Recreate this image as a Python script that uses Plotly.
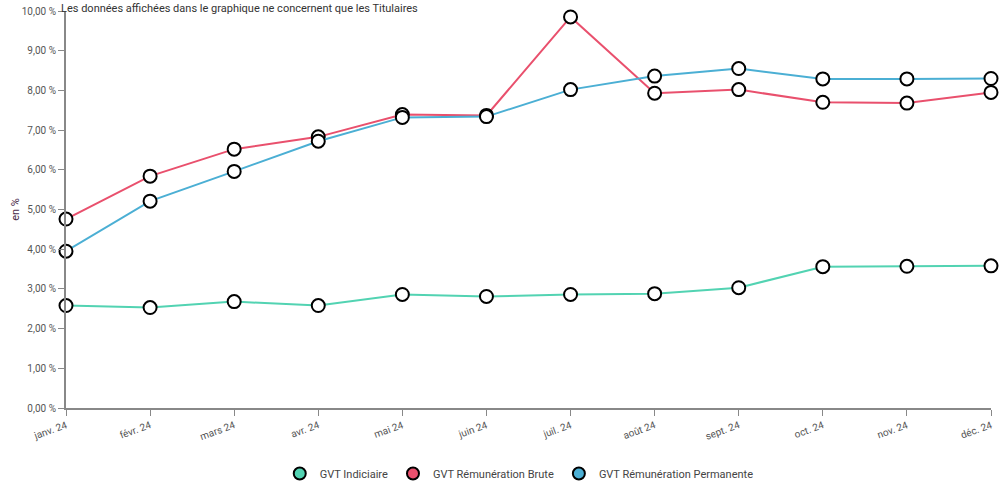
import plotly.graph_objects as go

months = ["janv. 24", "févr. 24", "mars 24", "avr. 24", "mai 24", "juin 24",
          "juil. 24", "août 24", "sept. 24", "oct. 24", "nov. 24", "déc. 24"]
gvt_indiciaire = [2.58, 2.53, 2.68, 2.58, 2.86, 2.81, 2.86, 2.88, 3.03, 3.56, 3.57, 3.58]
gvt_brute = [4.76, 5.84, 6.52, 6.83, 7.39, 7.37, 9.85, 7.93, 8.02, 7.70, 7.68, 7.95]
gvt_permanente = [3.95, 5.21, 5.96, 6.72, 7.32, 7.34, 8.02, 8.36, 8.55, 8.29, 8.29, 8.30]
y_ticks = [0, 1, 2, 3, 4, 5, 6, 7, 8, 9, 10]
y_tick_labels = ["0,00 %", "1,00 %", "2,00 %", "3,00 %", "4,00 %", "5,00 %",
                 "6,00 %", "7,00 %", "8,00 %", "9,00 %", "10,00 %"]

series = [
    ("GVT Indiciaire", gvt_indiciaire, "#52d3b2"),
    ("GVT Rémunération Brute", gvt_brute, "#e9506d"),
    ("GVT Rémunération Permanente", gvt_permanente, "#4bafd4"),
]

fig = go.Figure()
xidx = list(range(len(months)))
for name, vals, col in series:
    fig.add_trace(go.Scatter(
        x=xidx, y=vals, mode="lines+markers", name=name, showlegend=False,
        line=dict(color=col, width=2),
        marker=dict(size=13, color="white", line=dict(color="black", width=2)),
        cliponaxis=False,
    ))
for name, vals, col in series:
    fig.add_trace(go.Scatter(
        x=[None], y=[None], mode="markers", name=name, showlegend=True,
        marker=dict(size=11, color=col, line=dict(color="black", width=2)),
    ))

fig.update_layout(
    width=999, height=496,
    margin=dict(l=66, r=8, t=11, b=86),
    paper_bgcolor="white", plot_bgcolor="white",
    font=dict(family="Roboto, sans-serif", size=10, color="#555"),
    showlegend=True,
    legend=dict(orientation="h", x=0.49, xanchor="center", y=-0.165, yanchor="middle",
                font=dict(size=11, color="#444"), itemsizing="constant",
                itemwidth=30, tracegroupgap=0),
    xaxis=dict(
        range=[0, 11], tickvals=xidx, ticktext=months, tickangle=-20,
        showgrid=False, zeroline=False, showline=True, linecolor="#888", linewidth=2,
        ticks="outside", ticklen=6, tickcolor="#888", tickwidth=1,
        tickfont=dict(size=10, color="#555"), automargin=False,
    ),
    yaxis=dict(
        range=[0, 10], tickvals=y_ticks, ticktext=y_tick_labels,
        showgrid=False, zeroline=False, showline=True, linecolor="#888", linewidth=2,
        ticks="outside", ticklen=6, tickcolor="#888", tickwidth=1,
        tickfont=dict(size=10, color="#555"), automargin=False,
        title=dict(text="en %", font=dict(size=11, color="#4a2a4a"), standoff=0),
    ),
    annotations=[dict(
        text="Les données affichées dans le graphique ne concernent que les Titulaires",
        xref="paper", yref="paper", x=-0.008, y=1.0, yshift=11, xanchor="left", yanchor="top",
        showarrow=False, font=dict(size=11, color="#333"),
    )],
)

fig.write_html("out.html")
